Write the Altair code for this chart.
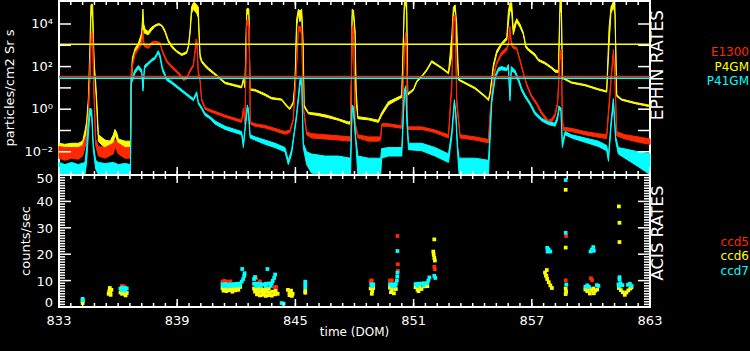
import altair as alt
import pandas as pd

DOM_MIN, DOM_MAX = 833, 863
LOG_LO, LOG_HI = -3.09, 5.08
W, HT, HA = 591, 174, 306

# EPHIN rates: (DOM, log10 lower edge of noise band, log10 upper edge)
p4gm = [
(833.00,-2.14,-1.60),(833.30,-2.20,-1.65),(833.64,-2.10,-1.60),(833.98,-2.20,-1.60),(834.20,-2.00,-1.50),
(834.32,-1.60,-1.00),(834.40,-0.90,-0.60),(834.49,0.20,0.50),(834.57,1.50,3.00),(834.62,4.30,4.90),
(834.66,4.60,4.95),(834.71,4.20,4.90),(834.74,3.00,3.60),(834.79,1.90,2.10),(834.86,1.00,1.30),
(834.91,0.20,0.50),(835.00,-1.50,-1.20),(835.34,-1.85,-1.45),(835.60,-1.90,-1.50),(835.76,-1.60,-1.20),
(835.84,-1.20,-0.95),(835.93,-1.40,-1.10),(836.01,-1.70,-1.40),(836.35,-1.85,-1.50),(836.63,-1.90,-1.50),
(836.66,0.80,1.00),(836.72,2.20,2.40),(836.86,2.70,2.85),(837.03,2.90,3.10),(837.20,3.40,3.60),
(837.26,4.30,4.70),(837.30,3.60,4.00),(837.37,3.55,3.75),(837.53,3.50,3.65),(837.70,3.70,3.85),
(837.87,3.88,3.95),(838.04,3.95,4.02),(838.13,3.95,4.00),(838.25,3.85,3.92),(838.38,3.60,3.70),
(838.55,3.15,3.25),(838.72,2.90,3.00),(838.97,2.68,2.75),(839.23,2.52,2.60),(839.48,2.62,2.70),
(839.57,2.90,3.00),(839.65,3.50,3.70),(839.73,4.50,4.80),(839.82,4.70,5.00),(839.90,4.60,5.00),
(839.99,4.50,4.90),(840.07,4.30,4.80),(840.12,3.20,3.50),(840.16,2.40,2.60),(840.24,2.20,2.30),
(840.41,2.00,2.10),(840.58,1.85,1.95),(840.92,1.60,1.68),(841.43,1.20,1.27),(841.93,1.08,1.15),
(842.27,1.00,1.07),(842.36,1.35,1.45),(842.44,1.00,1.10),(842.53,4.40,4.70),(842.58,4.50,4.75),
(842.64,4.40,4.70),(842.69,1.00,1.10),(842.73,0.88,0.95),(842.95,0.86,0.93),(843.46,0.64,0.72),
(843.79,0.48,0.55),(844.30,0.42,0.48),(844.56,0.12,0.18),(844.72,-0.02,0.05),(844.89,0.25,0.35),
(844.98,1.10,1.30),(845.06,3.80,4.20),(845.15,4.50,4.70),(845.23,4.10,4.60),(845.32,4.40,4.70),
(845.40,2.00,3.00),(845.44,0.10,0.20),(845.66,-0.22,-0.15),(846.16,-0.30,-0.20),(846.67,-0.40,-0.30),
(847.18,-0.52,-0.45),(847.69,-0.70,-0.60),(847.82,-0.70,-0.55),(847.88,4.40,4.70),(847.95,4.40,4.65),
(848.03,3.50,3.70),(848.08,0.40,1.00),(848.17,-0.45,-0.35),(848.71,-0.50,-0.42),(849.21,-0.62,-0.52),
(849.38,-0.30,-0.15),(849.72,0.20,0.35),(850.06,0.38,0.50),(850.40,0.55,0.65),(850.53,4.80,5.00),
(850.60,4.90,5.10),(850.65,4.50,5.00),(850.70,0.65,0.75),(850.99,0.88,0.95),(851.16,1.26,1.34),
(851.41,1.50,1.56),(851.67,1.80,1.88),(851.92,2.20,2.28),(852.18,2.05,2.12),(852.43,1.90,1.96),
(852.77,1.66,1.72),(852.94,2.50,3.50),(853.02,4.50,4.80),(853.11,4.70,4.90),(853.19,3.00,4.00),
(853.28,1.36,1.42),(853.61,1.20,1.26),(854.12,0.95,1.02),(854.63,0.56,0.63),(854.80,0.40,0.48),
(854.88,0.70,0.80),(855.05,1.95,2.10),(855.22,2.60,2.75),(855.47,3.02,3.12),(855.73,3.25,3.38),
(855.81,4.00,4.60),(855.89,4.70,5.00),(855.98,4.50,5.00),(856.06,3.50,3.80),(856.23,4.10,4.25),
(856.40,3.85,4.00),(856.57,3.50,3.60),(856.69,2.90,3.00),(856.82,2.75,2.85),(857.16,2.50,2.60),
(857.33,2.27,2.35),(857.67,2.12,2.20),(858.01,1.90,1.98),(858.18,1.74,1.84),(858.35,1.72,1.82),
(858.43,4.50,5.10),(858.50,4.80,5.10),(858.55,1.40,1.60),(858.60,1.42,1.48),(859.02,1.22,1.28),
(859.70,1.10,1.16),(860.38,0.90,0.96),(860.80,0.80,0.86),(860.92,3.00,3.80),(861.02,4.50,4.80),
(861.14,4.80,5.05),(861.22,4.50,4.90),(861.31,0.60,0.68),(861.56,0.42,0.48),(862.24,0.26,0.32),
(862.92,0.13,0.20),(863.00,0.12,0.19),
]

e1300 = [
(833.00,-2.30,-1.75),(833.30,-2.40,-1.80),(833.64,-2.30,-1.80),(833.98,-2.35,-1.80),(834.20,-2.20,-1.70),
(834.32,-1.80,-1.40),(834.40,-1.40,-1.20),(834.49,-0.50,-0.30),(834.57,1.50,2.00),(834.64,3.30,3.60),
(834.71,3.20,3.56),(834.76,1.00,1.40),(834.79,0.20,0.50),(834.86,-1.70,-1.40),(835.00,-2.20,-1.75),
(835.34,-2.30,-1.80),(835.76,-2.10,-1.60),(835.84,-1.75,-1.45),(836.01,-2.10,-1.60),(836.35,-2.30,-1.80),
(836.63,-2.30,-1.80),(836.66,1.60,1.90),(836.72,1.95,2.05),(836.86,2.55,2.65),(837.03,2.80,2.90),
(837.20,3.05,3.20),(837.26,3.50,3.70),(837.32,2.95,3.05),(837.53,2.85,2.95),(837.70,3.05,3.15),
(837.87,3.13,3.20),(838.13,3.05,3.13),(838.25,2.65,2.75),(838.47,2.20,2.30),(838.72,1.95,2.05),
(839.06,1.65,1.75),(839.31,1.35,1.45),(839.48,1.40,1.50),(839.65,1.75,1.85),(839.82,2.00,2.10),
(839.96,3.00,3.30),(840.01,2.80,3.20),(840.07,1.60,1.80),(840.16,1.30,1.45),(840.24,0.40,0.50),
(840.41,0.00,0.10),(840.67,-0.12,-0.02),(840.92,-0.20,-0.10),(841.43,-0.38,-0.28),(841.93,-0.52,-0.42),
(842.27,-0.62,-0.52),(842.36,-0.05,0.05),(842.44,-0.75,-0.65),(842.53,3.90,4.20),(842.60,4.00,4.20),
(842.66,3.50,3.80),(842.71,-0.70,-0.60),(842.95,-0.80,-0.68),(843.46,-0.88,-0.76),(843.96,-1.02,-0.90),
(844.47,-1.18,-1.05),(844.72,-1.10,-0.98),(844.89,-0.55,-0.45),(845.06,1.90,2.10),(845.15,3.60,3.90),
(845.23,3.70,3.90),(845.32,3.50,3.80),(845.40,0.00,0.20),(845.57,-1.20,-1.05),(845.82,-1.35,-1.15),
(846.50,-1.40,-1.20),(847.18,-1.45,-1.25),(847.80,-1.50,-1.30),(847.88,3.70,3.90),(847.95,3.60,3.90),
(848.03,-0.80,-0.60),(848.17,-1.35,-1.20),(848.71,-1.50,-1.30),(849.21,-1.50,-1.30),(849.33,-1.45,-1.30),
(849.38,-0.80,-0.68),(849.72,-0.80,-0.68),(850.40,-0.90,-0.78),(850.53,2.50,3.00),(850.60,3.40,3.60),
(850.65,2.00,2.60),(850.70,-0.95,-0.83),(851.41,-0.95,-0.83),(852.09,-1.10,-0.98),(852.77,-1.35,-1.20),
(852.94,1.00,1.40),(853.02,4.10,4.35),(853.11,4.20,4.42),(853.19,0.20,0.50),(853.36,-1.35,-1.20),
(854.12,-1.45,-1.30),(854.80,-1.58,-1.42),(854.88,-0.40,-0.20),(855.05,1.45,1.60),(855.22,2.10,2.22),
(855.47,2.55,2.70),(855.73,2.75,2.90),(855.81,3.00,3.10),(855.89,3.70,3.90),(855.96,3.00,3.20),
(856.06,2.85,2.95),(856.23,2.80,2.90),(856.40,2.25,2.35),(856.57,1.65,1.75),(856.74,1.10,1.20),
(856.99,0.55,0.65),(857.25,0.20,0.32),(857.50,-0.25,-0.12),(857.84,-0.65,-0.52),(858.01,-0.60,-0.45),
(858.18,-0.35,-0.20),(858.31,0.20,0.35),(858.43,2.30,2.70),(858.50,2.60,2.80),(858.55,-0.50,-0.30),
(858.60,-1.00,-0.85),(859.02,-1.05,-0.90),(859.70,-1.20,-1.05),(860.38,-1.32,-1.15),(860.80,-1.38,-1.20),
(860.92,0.00,0.30),(861.02,1.20,1.50),(861.14,2.60,2.80),(861.22,1.30,1.60),(861.31,-1.25,-1.05),
(861.73,-1.40,-1.20),(862.41,-1.55,-1.30),(863.00,-1.65,-1.40),
]

p41gm = [
(833.00,-3.08,-2.50),(833.30,-3.08,-2.60),(833.64,-3.08,-2.50),(833.98,-3.08,-2.60),(834.32,-3.08,-2.50),
(834.40,-2.50,-1.80),(834.49,-1.20,-0.60),(834.57,-0.20,0.05),(834.66,-0.40,0.00),(834.74,-1.90,-1.60),
(834.86,-2.80,-2.40),(835.00,-3.08,-2.50),(835.34,-3.08,-2.55),(835.76,-3.08,-2.50),(836.01,-3.08,-2.60),
(836.35,-3.08,-2.55),(836.63,-3.08,-2.60),(836.66,1.20,1.45),(836.72,1.30,1.50),(836.86,1.70,1.85),
(837.03,1.90,2.05),(837.20,1.70,1.85),(837.26,0.85,1.00),(837.34,1.90,2.05),(837.53,2.10,2.20),
(837.70,2.25,2.35),(837.87,2.35,2.45),(838.04,2.65,2.75),(838.13,2.40,2.55),(838.25,1.80,1.95),
(838.47,1.35,1.45),(838.72,1.20,1.30),(839.06,0.95,1.05),(839.40,0.70,0.80),(839.65,0.52,0.62),
(839.82,0.40,0.50),(839.99,0.70,0.82),(840.07,0.25,0.35),(840.24,0.00,0.10),(840.41,-0.30,-0.18),
(840.67,-0.45,-0.35),(840.92,-0.70,-0.55),(841.43,-0.95,-0.80),(841.93,-1.10,-0.95),(842.27,-1.20,-1.05),
(842.36,-1.80,-1.60),(842.44,-1.05,-0.90),(842.56,0.05,0.20),(842.62,-0.30,0.00),(842.70,-1.35,-1.20),
(842.95,-1.45,-1.30),(843.46,-1.65,-1.45),(843.96,-1.80,-1.60),(844.47,-2.00,-1.80),(844.64,-2.60,-2.40),
(844.81,-2.10,-1.90),(844.94,-1.20,-1.05),(845.06,-0.40,-0.20),(845.23,1.10,1.40),(845.32,1.20,1.40),
(845.40,-1.80,-1.60),(845.57,-2.60,-2.00),(845.82,-3.00,-2.10),(846.50,-3.08,-2.20),(847.18,-3.08,-2.20),
(847.80,-3.08,-2.30),(847.88,0.00,0.20),(847.95,-0.20,0.10),(848.06,-1.50,-1.30),(848.17,-3.08,-2.20),
(848.71,-3.08,-2.30),(849.21,-3.08,-2.30),(849.33,-3.08,-2.30),(849.38,-2.30,-1.85),(849.72,-2.20,-1.80),
(850.40,-2.20,-1.80),(850.53,0.60,0.90),(850.60,0.90,1.10),(850.65,-0.50,0.00),(850.74,-1.90,-1.60),
(851.41,-1.95,-1.60),(852.09,-2.20,-1.80),(852.77,-2.50,-2.10),(852.94,-1.30,-1.00),(853.07,0.30,0.45),
(853.15,-0.50,-0.20),(853.23,-2.00,-1.70),(853.31,-3.08,-2.30),(854.12,-3.08,-2.30),(854.80,-3.08,-2.40),
(854.88,-1.50,-1.00),(854.97,0.30,0.50),(855.14,1.45,1.60),(855.31,1.80,1.95),(855.47,1.85,2.00),
(855.73,1.80,1.92),(855.81,1.95,2.10),(855.89,0.40,0.60),(855.96,1.80,2.00),(856.15,1.70,1.82),
(856.32,1.30,1.45),(856.49,0.85,0.98),(856.66,0.55,0.68),(856.91,0.20,0.32),(857.16,-0.25,-0.12),
(857.50,-0.55,-0.42),(857.84,-0.72,-0.60),(858.18,-0.80,-0.65),(858.31,-0.50,-0.30),(858.38,0.00,0.16),
(858.48,-0.10,0.05),(858.55,-1.80,-1.60),(858.69,-1.20,-1.05),(859.02,-1.35,-1.20),(859.70,-1.55,-1.35),
(860.38,-1.75,-1.50),(860.80,-1.95,-1.70),(860.89,-2.45,-2.20),(861.02,-0.90,-0.60),(861.14,0.30,0.50),
(861.26,-1.50,-1.30),(861.39,-2.10,-1.80),(862.41,-2.70,-2.00),(863.00,-3.08,-2.10),
]

# EPHIN alert levels, log10
thresh_names = ["P4GM", "E1300", "P41GM"]
thresh_log = [3.05, 1.53, 1.45]

# ACIS rates (DOM, counts/sec)
ccd5 = [
(836.20,8.0),(836.30,7.8),
(841.30,9.6),(841.40,9.9),(841.50,9.6),(841.60,9.5),(841.70,9.7),
(842.95,11.4),(843.00,10.9),(843.20,9.7),(843.95,7.5),(844.02,7.6),
(848.82,9.8),(848.88,10.1),
(849.80,10.0),(849.90,10.1),(850.18,26.9),(850.20,16.2),(850.20,13.7),
(852.05,15.2),(852.08,14.3),
(857.76,11.9),(858.72,10.1),(858.74,26.9),(860.00,10.9),(860.06,10.2),
]
ccd6 = [
(834.20,1.5),(834.20,2.2),
(835.52,5.0),(835.55,6.0),(835.60,5.5),(835.62,4.6),(835.66,6.5),(835.58,7.2),
(836.12,5.5),(836.20,5.0),(836.28,5.6),(836.36,5.0),(836.44,5.3),(836.38,4.4),
(841.30,7.2),(841.45,7.0),(841.60,7.3),(841.75,6.9),(841.90,7.1),(842.05,7.4),(842.20,7.6),
(841.35,6.2),(841.50,6.0),(841.65,6.4),(841.80,5.8),(841.95,6.3),(842.10,6.5),
(842.90,7.0),(843.05,6.8),(843.20,7.2),(843.35,6.6),(843.50,6.9),(843.65,7.1),
(842.95,5.8),(843.10,5.6),(843.25,5.9),(843.40,5.5),(843.55,5.7),(843.70,5.6),(843.85,5.8),(844.00,6.1),
(843.05,4.8),(843.20,4.4),(843.35,4.6),(843.50,4.2),(843.65,4.5),(843.80,4.3),(843.95,4.8),(844.10,5.0),
(844.62,6.5),(844.70,5.5),(844.78,6.2),(844.86,5.0),(844.70,4.5),(844.82,4.2),
(845.50,6.2),(845.50,5.4),
(848.82,7.0),(848.90,6.0),(848.95,7.2),(848.88,5.0),
(849.80,7.3),(849.90,6.5),(850.00,7.5),(850.10,6.8),(849.85,5.6),(850.00,5.2),
(851.10,7.5),(851.20,6.6),(851.30,7.6),(851.40,6.8),(851.55,7.8),(851.70,7.9),(851.25,6.0),
(852.00,21.0),(852.02,19.8),(852.05,18.6),(852.08,17.6),(852.05,25.6),
(857.67,13.0),(857.72,11.8),(857.78,10.6),(857.86,9.4),(857.94,8.2),(858.02,7.2),(857.76,14.0),
(858.72,7.0),(858.74,5.8),(858.72,4.9),(858.72,44.4),(858.72,22.5),
(859.72,6.6),(859.82,6.0),(859.92,7.0),(860.02,6.4),(860.12,7.0),(860.22,6.2),(860.32,6.6),(859.95,5.1),(860.15,5.2),
(861.42,7.2),(861.52,6.4),(861.62,5.6),(861.72,4.6),(861.80,5.5),(861.90,6.3),(862.00,7.0),(862.06,7.5),
(861.42,38.1),(861.45,31.9),(861.45,24.6),
]
ccd7 = [
(834.20,2.6),(834.20,3.1),
(836.12,7.0),(836.20,7.3),(836.28,7.0),(836.36,7.2),(836.44,7.0),(836.20,6.3),(836.36,6.2),
(841.30,8.6),(841.45,8.7),(841.60,8.5),(841.75,8.6),(841.90,8.7),(842.05,8.8),(842.20,8.9),
(841.35,7.9),(841.55,7.8),(841.75,7.9),(841.95,8.0),(842.15,8.1),
(842.28,9.6),(842.35,10.6),(842.40,11.8),(842.42,12.8),(842.30,14.4),
(842.90,8.8),(843.05,8.9),(843.20,8.7),(843.35,8.6),(843.50,8.8),(843.65,8.9),(843.80,9.0),
(843.00,7.9),(843.25,7.8),(843.50,7.9),(843.75,8.0),
(843.85,9.9),(843.92,11.0),(843.97,12.3),(843.58,14.4),(842.90,10.6),(842.95,11.3),
(844.30,1.5),(844.40,1.3),
(845.50,9.6),(845.50,8.5),(845.50,7.4),
(848.85,8.6),(848.95,8.6),(848.90,7.9),
(849.80,8.6),(849.95,8.6),(850.10,8.7),(849.90,7.8),(850.05,7.8),(850.15,10.0),(850.17,11.5),(850.18,13.0),(850.18,21.2),
(851.10,8.7),(851.25,8.8),(851.40,8.9),(851.55,9.0),(851.70,9.2),(851.20,8.0),(851.50,8.1),
(851.75,10.0),(851.80,11.2),(852.05,11.8),(852.10,11.0),
(857.78,22.4),(857.86,21.8),(857.94,21.0),(857.80,21.0),
(858.75,8.5),(858.72,28.1),(858.72,48.1),
(859.72,7.7),(859.82,8.2),(859.90,7.6),(860.30,8.3),(860.38,8.0),
(859.98,21.0),(860.05,21.8),(860.12,22.7),(860.15,21.3),
(861.40,8.6),(861.50,9.0),(861.60,8.3),(861.45,7.8),(861.88,8.4),(861.98,8.8),(862.06,8.0),(861.45,10.5),(861.45,11.3),
]

# axis ticks and labels
x_major = [833, 839, 845, 851, 857, 863]
x_minor = [round(833 + 0.6 * i, 2) for i in range(51)]
ephin_decades = [-2, -1, 0, 1, 2, 3, 4]
ephin_labels = {-2: "10\u207b\u00b2", 0: "10\u2070", 2: "10\u00b2", 4: "10\u2074"}
acis_major = [0, 10, 20, 30, 40, 50]
acis_minor = [v for v in range(0, 51) if v % 10]

RED, YEL, CYA = "#ff2800", "#ffff00", "#00ffff"
FONT = "DejaVu Sans"

xs = alt.Scale(domain=[DOM_MIN, DOM_MAX], nice=False, zero=False)
ylog = alt.Scale(type="log", domain=[10 ** LOG_LO, 10 ** LOG_HI], range=[HT, 0], clamp=True, nice=False)
ylin = alt.Scale(domain=[0, 50], range=[HA, HT], nice=False, zero=False, clamp=True)

X = alt.X("t:Q", scale=xs, axis=None)


def band(rows, color):
    df = pd.DataFrame({"t": [r[0] for r in rows],
                       "lo": [10 ** r[1] for r in rows],
                       "hi": [10 ** r[2] for r in rows]})
    return alt.Chart(df).mark_area(fill=color, stroke=color, strokeWidth=1, opacity=1).encode(
        x=X, y=alt.Y("lo:Q", scale=ylog, axis=None), y2="hi:Q")


def pts(rows, color):
    df = pd.DataFrame({"t": [r[0] for r in rows], "rate": [r[1] for r in rows]})
    return alt.Chart(df).mark_square(size=14, color=color, opacity=1).encode(
        x=X, y=alt.Y("rate:Q", scale=ylin, axis=None))


def text(label, x, y, color="white", size=12, angle=0, align="center"):
    return alt.Chart(pd.DataFrame({"s": [label]})).mark_text(
        font=FONT, fontSize=size, color=color, angle=angle, align=align, baseline="middle").encode(
        x=alt.value(x), y=alt.value(y), text="s:N")


def xticks(vals, y0, y1):
    return alt.Chart(pd.DataFrame({"t": vals})).mark_rule(color="white", strokeWidth=1.5).encode(
        x=X, y=alt.value(y0), y2=alt.value(y1))


def yticks(vals, scale, length):
    df = pd.DataFrame({"v": vals})
    base = alt.Chart(df).mark_rule(color="white", strokeWidth=1.5)
    yy = alt.Y("v:Q", scale=scale, axis=None)
    return [base.encode(y=yy, x=alt.value(0), x2=alt.value(length)),
            base.encode(y=yy, x=alt.value(W - length), x2=alt.value(W))]


layers = [band(p4gm, YEL), band(e1300, RED), band(p41gm, CYA)]

thr = pd.DataFrame({"name": thresh_names, "v": [10 ** v for v in thresh_log], "c": [YEL, RED, CYA]})
layers.append(alt.Chart(thr).mark_rule(strokeWidth=1.5).encode(
    y=alt.Y("v:Q", scale=ylog, axis=None), color=alt.Color("c:N", scale=None)))

layers += [pts(ccd5, RED), pts(ccd6, YEL), pts(ccd7, CYA)]

# ticks
layers += yticks([10 ** d for d in ephin_decades], ylog, 12)
layers += yticks(acis_major, ylin, 12)
layers += yticks(acis_minor, ylin, 6)
for (y0, d) in [(0, 1), (HT, -1), (HT, 1), (HA, -1)]:
    layers.append(xticks(x_major, y0, y0 + 8 * d))
    layers.append(xticks(x_minor, y0, y0 + 4 * d))

# panel divider
layers.append(alt.Chart(pd.DataFrame({"a": [0]})).mark_rule(color="white", strokeWidth=2).encode(
    y=alt.value(HT), x=alt.value(0), x2=alt.value(W)))

# tick labels
elab = pd.DataFrame({"v": [10 ** k for k in ephin_labels], "s": list(ephin_labels.values())})
layers.append(alt.Chart(elab).mark_text(font=FONT, fontSize=13, color="white", align="right", baseline="middle").encode(
    y=alt.Y("v:Q", scale=ylog, axis=None), x=alt.value(-6), text="s:N"))
alab_mid = pd.DataFrame({"v": acis_major[1:-1], "s": [str(v) for v in acis_major[1:-1]]})
layers.append(alt.Chart(alab_mid).mark_text(font=FONT, fontSize=13, color="white", align="right", baseline="middle", dy=1).encode(
    y=alt.Y("v:Q", scale=ylin, axis=None), x=alt.value(-6), text="s:N"))
alab_lo = pd.DataFrame({"v": acis_major[:1], "s": [str(acis_major[0])]})
layers.append(alt.Chart(alab_lo).mark_text(font=FONT, fontSize=13, color="white", align="right", baseline="middle", dy=-4).encode(
    y=alt.Y("v:Q", scale=ylin, axis=None), x=alt.value(-6), text="s:N"))
alab_hi = pd.DataFrame({"v": acis_major[-1:], "s": [str(acis_major[-1])]})
layers.append(alt.Chart(alab_hi).mark_text(font=FONT, fontSize=13, color="white", align="right", baseline="middle", dy=4).encode(
    y=alt.Y("v:Q", scale=ylin, axis=None), x=alt.value(-6), text="s:N"))
xlab = pd.DataFrame({"t": x_major, "s": [str(v) for v in x_major]})
layers.append(alt.Chart(xlab).mark_text(font=FONT, fontSize=13, color="white", align="center", baseline="middle").encode(
    x=X, y=alt.value(320), text="s:N"))

# titles and legends
layers += [
    text("time (DOM)", W / 2, 331),
    text("particles/cm2 Sr s", -49, 87, size=13, angle=270),
    text("counts/sec", -33, 240, size=13, angle=270),
    text("EPHIN RATES", 599, 64, size=17, angle=270),
    text("ACIS RATES", 599, 232, size=16.5, angle=270),
    text("E1300", 690, 51, color=RED, align="right"),
    text("P4GM", 690, 65.7, color=YEL, align="right"),
    text("P41GM", 690, 80, color=CYA, align="right"),
    text("ccd5", 690, 240.5, color=RED, align="right"),
    text("ccd6", 690, 255, color=YEL, align="right"),
    text("ccd7", 690, 269.5, color=CYA, align="right"),
]

chart = alt.layer(*layers).resolve_scale(y="independent").properties(
    width=W, height=HA,
    autosize=alt.AutoSizeParams(type="none"),
    padding={"left": 59, "top": 1, "right": 100, "bottom": 44},
    background="black",
).configure_view(stroke="white", strokeWidth=2)

chart.save("out.html", embed_options={"renderer": "svg", "actions": False})
